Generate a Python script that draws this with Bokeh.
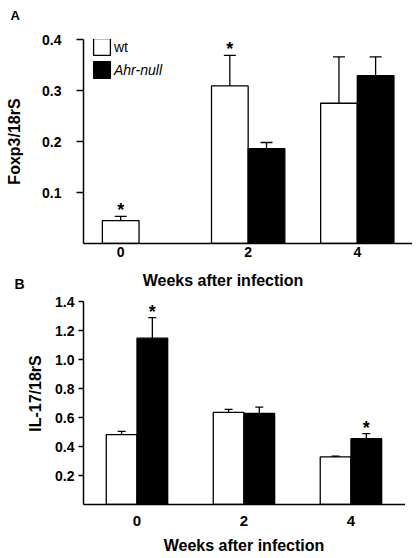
import numpy as np
from bokeh.plotting import figure
from bokeh.models import (Range1d, FixedTicker, PrintfTickFormatter, Whisker, TeeHead,
                          ColumnDataSource, Label, Legend)
from bokeh.layouts import column
from bokeh.core.properties import value
from bokeh.embed import file_html
from bokeh.resources import INLINE

# ---------------- data ----------------
weeks = [0, 2, 4]
week_labels = ["0", "2", "4"]
series_names = ["wt", "Ahr-null"]

# Panel A: Foxp3/18rS
foxp3_wt = [0.045, 0.309, 0.275]
foxp3_wt_err = [0.008, 0.060, 0.091]
foxp3_wt_sig = [True, True, False]
foxp3_ahr = [np.nan, 0.186, 0.329]
foxp3_ahr_err = [np.nan, 0.012, 0.037]
foxp3_ahr_sig = [False, False, False]
foxp3_ticks = [0.1, 0.2, 0.3, 0.4]

# Panel B: IL-17/18rS
il17_wt = [0.482, 0.635, 0.328]
il17_wt_err = [0.023, 0.021, 0.006]
il17_wt_sig = [False, False, False]
il17_ahr = [1.147, 0.628, 0.454]
il17_ahr_err = [0.142, 0.044, 0.035]
il17_ahr_sig = [True, False, True]
il17_ticks = [0.2, 0.4, 0.6, 0.8, 1.0, 1.2, 1.4]

FONT = "Liberation Sans"


def add_series(p, xs, vals, errs, sig, color, bar_w, cap):
    keep = [i for i, v in enumerate(vals) if not np.isnan(v)]
    src = ColumnDataSource(dict(
        x=[xs[i] for i in keep],
        top=[vals[i] for i in keep],
        upper=[vals[i] + errs[i] for i in keep],
    ))
    r = p.vbar(x="x", top="top", bottom=0, width=bar_w, source=src,
               fill_color=color, line_color="black", line_width=1.3)
    p.add_layout(Whisker(source=src, base="x", lower="top", upper="upper",
                         dimension="height", line_color="black", line_width=1.3,
                         upper_head=TeeHead(size=cap, line_color="black", line_width=1.3),
                         lower_head=None))
    sidx = [i for i in keep if sig[i]]
    ssrc = ColumnDataSource(dict(x=[xs[i] for i in sidx],
                                 y=[vals[i] + errs[i] for i in sidx]))
    p.text(x="x", y="y", text=value("*"), source=ssrc, text_font=value(FONT),
           text_font_size="18px", text_font_style="bold", text_align="center",
           text_baseline="alphabetic", y_offset=-6, text_color="black")
    return r


def style(p, yticks, ytick_out, ystandoff, xticks, xstandoff, xfont):
    p.xgrid.visible = False
    p.ygrid.visible = False
    p.outline_line_color = None
    p.background_fill_color = "white"
    p.border_fill_color = "white"
    p.title.visible = False
    for ax in (p.xaxis[0], p.yaxis[0]):
        ax.axis_line_width = 1.5
        ax.axis_line_color = "black"
        ax.minor_tick_line_color = None
        ax.major_label_text_font = FONT
        ax.major_label_text_font_style = "bold"
        ax.major_label_text_color = "black"
    ya = p.yaxis[0]
    ya.ticker = FixedTicker(ticks=yticks)
    ya.formatter = PrintfTickFormatter(format="%.1f")
    ya.major_tick_in = 0
    ya.major_tick_out = ytick_out
    ya.major_tick_line_width = 1.5
    ya.major_label_standoff = ystandoff
    ya.major_label_text_font_size = "14px"
    xa = p.xaxis[0]
    xa.ticker = FixedTicker(ticks=xticks)
    xa.major_label_overrides = {t: lab for t, lab in zip(xticks, week_labels)}
    xa.major_tick_line_color = None
    xa.major_tick_in = 0
    xa.major_tick_out = 0
    xa.major_label_standoff = xstandoff
    xa.major_label_text_font_size = xfont


def add_text(p, side, x, y, text, size, style_="bold", angle=0.0, align="left", baseline="alphabetic"):
    p.add_layout(Label(x=x, y=y, x_units="screen", y_units="screen", text=text,
                       angle=angle, text_align=align, text_baseline=baseline,
                       text_font=FONT, text_font_size=size, text_font_style=style_,
                       text_color="black"), side)


# ---------------- Panel A ----------------
wA = 0.672
pA = figure(width=412, height=293, x_range=Range1d(-1.018, 5.012), y_range=Range1d(0, 0.4),
            output_backend="svg", toolbar_location=None,
            min_border_left=83, min_border_right=0, min_border_top=39, min_border_bottom=50)
xA_wt = [w - wA / 2 for w in weeks]
xA_ahr = [w + wA / 2 for w in weeks]
rA_wt = add_series(pA, xA_wt, foxp3_wt, foxp3_wt_err, foxp3_wt_sig, "white", wA, 12)
rA_ahr = add_series(pA, xA_ahr, foxp3_ahr, foxp3_ahr_err, foxp3_ahr_sig, "black", wA, 12)
xticksA = [xA_wt[0], weeks[1], weeks[2]]
style(pA, foxp3_ticks, 7, 15, xticksA, 3, "14px")

common_leg = dict(padding=0, margin=0, spacing=0, glyph_width=21, glyph_height=21,
                  label_height=21, label_standoff=2, border_line_color=None,
                  background_fill_alpha=0, label_text_font=FONT,
                  label_text_font_size="14px", label_text_color="black")
leg1 = Legend(items=[(series_names[0], [rA_wt])], location=(8, 186), **common_leg)
leg2 = Legend(items=[(series_names[1], [rA_ahr])], location=(8, 163),
              label_text_font_style="italic", **common_leg)
pA.add_layout(leg1)
pA.add_layout(leg2)

add_text(pA, "left", -7.8, 102, "Foxp3/18rS", "16px", angle=np.pi / 2, align="center", baseline="middle")
add_text(pA, "left", 2, -40, "B", "14px")
add_text(pA, "below", 139.5, -4, "Weeks after infection", "16px", align="center")
add_text(pA, "above", -73, 24, "A", "13px")

# ---------------- Panel B ----------------
wB = 0.574
pB = figure(width=405, height=265, x_range=Range1d(-1.0, 5.02), y_range=Range1d(0, 1.4),
            output_backend="svg", toolbar_location=None,
            min_border_left=80, min_border_right=0, min_border_top=8, min_border_bottom=54)
xB_wt = [w - wB / 2 for w in weeks]
xB_ahr = [w + wB / 2 for w in weeks]
add_series(pB, xB_wt, il17_wt, il17_wt_err, il17_wt_sig, "white", wB, 8)
add_series(pB, xB_ahr, il17_ahr, il17_ahr_err, il17_ahr_sig, "black", wB, 8)
style(pB, il17_ticks, 5, 4, weeks, 11, "15px")

add_text(pB, "left", 0, 111, "IL-17/18rS", "16px", angle=np.pi / 2, align="center", baseline="middle")
add_text(pB, "below", 160.5, 0, "Weeks after infection", "16px", align="center")

layout = column(pA, pB, spacing=0)
open("out.html", "w").write(file_html(layout, INLINE))
